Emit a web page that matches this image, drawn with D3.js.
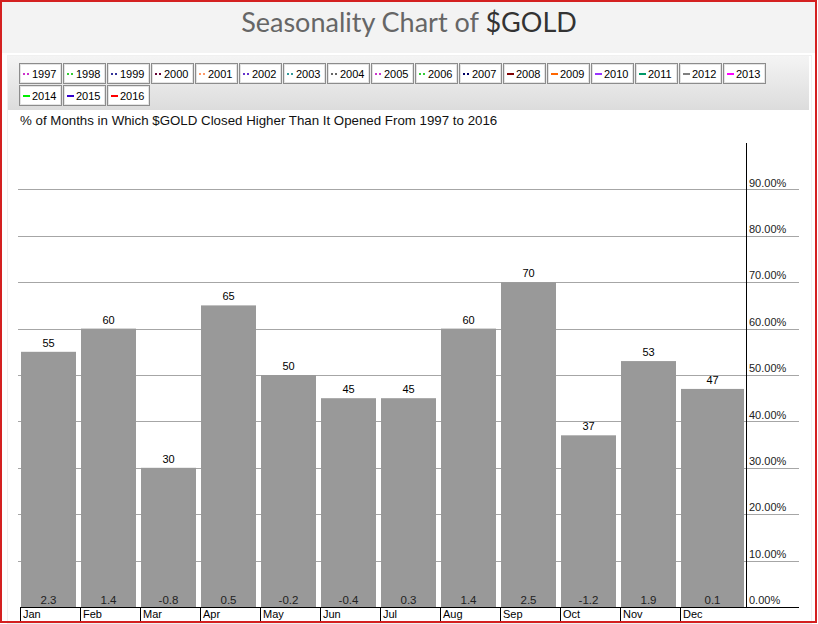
<!DOCTYPE html>
<html>
<head>
<meta charset="utf-8">
<script src="https://cdn.jsdelivr.net/npm/d3@7/dist/d3.min.js"></script>
<style>
  html, body { margin: 0; padding: 0; background: #fff; }
  svg { display: block; }
  text { font-family: "Liberation Sans", Arial, sans-serif; }
</style>
</head>
<body>
<script>
// ---- data ----
const months = ["Jan","Feb","Mar","Apr","May","Jun","Jul","Aug","Sep","Oct","Nov","Dec"];
const pctHigher = [55, 60, 30, 65, 50, 45, 45, 60, 70, 37, 53, 47];
const avgChange = [2.3, 1.4, -0.8, 0.5, -0.2, -0.4, 0.3, 1.4, 2.5, -1.2, 1.9, 0.1];
const yTicks = [0, 10, 20, 30, 40, 50, 60, 70, 80, 90];
const years = [1997,1998,1999,2000,2001,2002,2003,2004,2005,2006,2007,2008,2009,2010,2011,2012,2013,2014,2015,2016];
const yearColors = ["#cc33cc","#33cc33","#333399","#660033","#ff9966","#6633cc","#339999","#666666","#cc33cc","#33cc33","#000066",
                    "#800000","#ff6600","#9933ff","#009966","#808080","#ff00ff","#00ee00","#3300cc","#ff0000"];
const yearDotted = [true,true,true,true,true,true,true,true,true,true,true,false,false,false,false,false,false,false,false,false];

const W = 818, H = 624;
const svg = d3.select("body").append("svg").attr("width", W).attr("height", H);

// gradient for legend panel
const defs = svg.append("defs");
const grad = defs.append("linearGradient").attr("id", "lg").attr("x1", 0).attr("y1", 0).attr("x2", 0).attr("y2", 1);
grad.append("stop").attr("offset", "0%").attr("stop-color", "#f4f4f4");
grad.append("stop").attr("offset", "100%").attr("stop-color", "#dcdcdc");

// backgrounds
svg.append("rect").attr("x", 0).attr("y", 0).attr("width", W).attr("height", H).attr("fill", "#fff");
svg.append("rect").attr("x", 2).attr("y", 2).attr("width", 814).attr("height", 51).attr("fill", "#f3f3f3");
svg.append("rect").attr("x", 7.5).attr("y", 55.5).attr("width", 804).attr("height", 568).attr("fill", "none").attr("stroke", "#f0f0f0");
svg.append("rect").attr("x", 8).attr("y", 56).attr("width", 801).attr("height", 54).attr("fill", "url(#lg)");

// title
const title = svg.append("text").attr("x", 409).attr("y", 32).attr("text-anchor", "middle")
  .style("font-family", "Lato, 'Open Sans', sans-serif").style("font-size", "27px");
title.append("tspan").attr("fill", "#666").text("Seasonality Chart of ");
title.append("tspan").attr("fill", "#333").text("$GOLD");

// legend
const perRow = 17;
const lg = svg.append("g");
years.forEach((yr, i) => {
  const row = Math.floor(i / perRow), col = i % perRow;
  const gx = 19 + col * 44, gy = 63 + row * 22;
  const g = lg.append("g").attr("transform", `translate(${gx},${gy})`);
  g.append("rect").attr("x", 0.5).attr("y", 0.5).attr("width", 42).attr("height", 20)
    .attr("fill", "#fff").attr("stroke", "#8c8c8c");
  g.append("rect").attr("x", 1.5).attr("y", 1.5).attr("width", 40).attr("height", 18)
    .attr("fill", "none").attr("stroke", "#e4e4e4");
  if (yearDotted[i]) {
    g.append("rect").attr("x", 4).attr("y", 10).attr("width", 2).attr("height", 2).attr("fill", yearColors[i]);
    g.append("rect").attr("x", 8).attr("y", 10).attr("width", 2).attr("height", 2).attr("fill", yearColors[i]);
  } else {
    g.append("rect").attr("x", 4).attr("y", 10).attr("width", 7).attr("height", 2).attr("fill", yearColors[i]);
  }
  g.append("text").attr("x", 13).attr("y", 14.5).attr("fill", "#000").style("font-size", "11px").text(yr);
});

// subtitle
svg.append("text").attr("x", 20).attr("y", 125).attr("fill", "#111").style("font-size", "13.3px")
  .text("% of Months in Which $GOLD Closed Higher Than It Opened From 1997 to 2016");

// scales
const axisX = 746;
const x = d3.scaleBand().domain(months).range([20, 740]).padding(0);
const y = d3.scaleLinear().domain([0, 100]).range([607, 143]);

// gridlines
svg.append("g").selectAll("line").data(yTicks.filter(d => d > 0)).join("line")
  .attr("x1", 18).attr("x2", 799)
  .attr("y1", d => Math.round(y(d)) + 0.5).attr("y2", d => Math.round(y(d)) + 0.5)
  .attr("stroke", "#a6a6a6");

// bars
const data = months.map((m, i) => ({ m, v: pctHigher[i], c: avgChange[i], last: i === months.length - 1 }));
const bx = d => x(d.m) + 1;
const bw = d => d.last ? (axisX - 2 - bx(d)) : x.bandwidth() - 5;
svg.append("g").selectAll("rect").data(data).join("rect")
  .attr("x", bx).attr("width", bw)
  .attr("y", d => y(d.v)).attr("height", d => y(0) - y(d.v))
  .attr("fill", "#999999");

// value labels
svg.append("g").selectAll("text").data(data).join("text")
  .attr("x", d => bx(d) + bw(d) / 2).attr("y", d => y(d.v) - 5)
  .attr("text-anchor", "middle").attr("fill", "#000").style("font-size", "11px")
  .text(d => d.v);
svg.append("g").selectAll("text").data(data).join("text")
  .attr("x", d => bx(d) + bw(d) / 2).attr("y", y(0) - 3)
  .attr("text-anchor", "middle").attr("fill", "#222").style("font-size", "11.5px")
  .text(d => d.c.toFixed(1));

// y axis (right)
const yAxis = d3.axisRight(y).tickValues(yTicks).tickFormat(d => d.toFixed(2) + "%").tickSize(0).tickPadding(3);
const ya = svg.append("g").attr("transform", `translate(${axisX},0)`).call(yAxis);
ya.select(".domain").remove();
ya.selectAll("text").attr("dy", "-0.3em").attr("fill", "#222").style("font-size", "11px")
  .style("font-family", "'Liberation Sans', Arial, sans-serif");
svg.append("line").attr("x1", axisX + 0.5).attr("x2", axisX + 0.5).attr("y1", 143).attr("y2", y(0))
  .attr("stroke", "#000");

// x axis (bottom)
svg.append("line").attr("x1", 20).attr("x2", 799).attr("y1", y(0) + 0.5).attr("y2", y(0) + 0.5).attr("stroke", "#000");
const xa = svg.append("g");
xa.selectAll("line").data(months).join("line")
  .attr("x1", d => x(d) + 0.5).attr("x2", d => x(d) + 0.5).attr("y1", y(0)).attr("y2", 622)
  .attr("stroke", "#000");
xa.selectAll("text").data(months).join("text")
  .attr("x", d => x(d) + 3).attr("y", 618).attr("fill", "#000").style("font-size", "11px")
  .text(d => d);

// outer red border
svg.append("rect").attr("x", 1).attr("y", 1).attr("width", 815).attr("height", 621)
  .attr("fill", "none").attr("stroke", "#d42020").attr("stroke-width", 2);
</script>
</body>
</html>
